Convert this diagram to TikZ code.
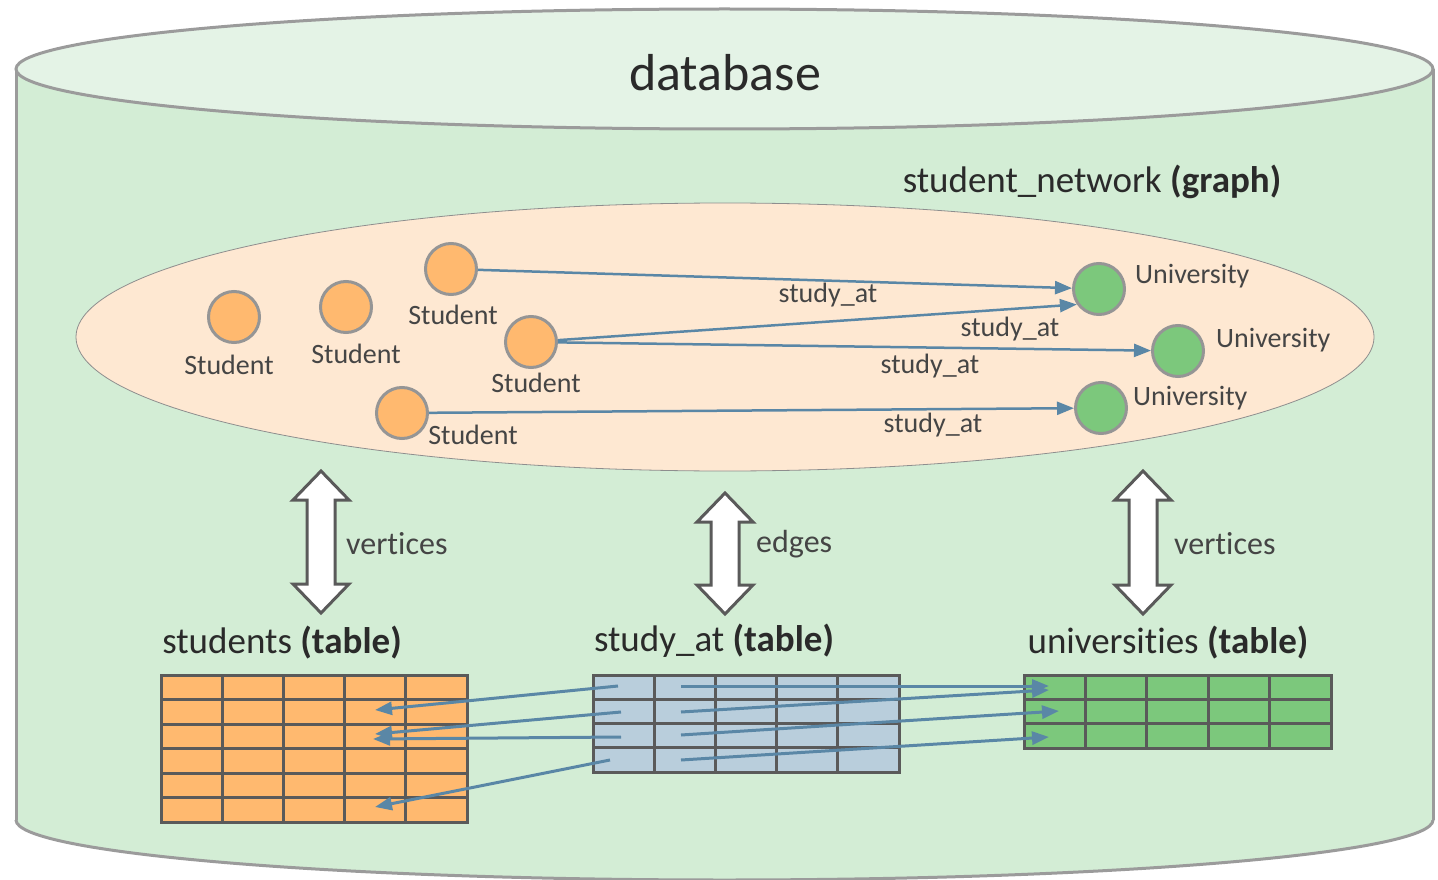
\documentclass[tikz,border=0pt]{standalone}
\usepackage{fontspec}
\setmainfont{Carlito}[Ligatures=CommonOff]
\usetikzlibrary{arrows.meta}

\definecolor{cylside}{HTML}{D3EDD5}
\definecolor{cyltop}{HTML}{E4F3E6}
\definecolor{cylline}{HTML}{9B9B9B}
\definecolor{graphfill}{HTML}{FEE8D2}
\definecolor{graphline}{HTML}{8E8E8E}
\definecolor{studfill}{HTML}{FFB96F}
\definecolor{unifill}{HTML}{7CC87C}
\definecolor{nodeline}{HTML}{959595}
\definecolor{linkblue}{HTML}{5A87A6}
\definecolor{tabline}{HTML}{5A5A5A}
\definecolor{edgefill}{HTML}{B9CEDC}
\definecolor{txt}{HTML}{454545}
\definecolor{titletxt}{HTML}{2A2A2A}

\tikzset{
  student/.style={circle, fill=studfill, draw=nodeline, line width=3pt,
    minimum size=51pt, inner sep=0pt},
  university/.style={student, fill=unifill},
  lbl/.style={text=txt, font=\fontsize{28}{31}\selectfont, inner sep=0pt},
  maplbl/.style={lbl, font=\fontsize{32}{35}\selectfont, anchor=west},
  ttl/.style={text=titletxt, font=\fontsize{37}{41}\selectfont, inner sep=0pt},
  link/.style={draw=linkblue, line width=2.5pt,
    -{Triangle[length=17pt,width=13pt]}},
  tablink/.style={link, line width=3pt},
  biarrow/.style={draw=tabline, line width=3pt, fill=white, line join=miter},
  tabgrid/.style={draw=tabline, line width=3pt},
}

\begin{document}
\begin{tikzpicture}[x=1pt, y=-1pt]
\useasboundingbox (0,0) rectangle (1438,880);

% database cylinder
\fill[cylside] (16,69) rectangle (1433,820);
\fill[cylside] (724.5,820) ellipse [x radius=708.5, y radius=60];
\begin{scope}
  \clip (0,820) rectangle (1438,900);
  \draw[cylline, line width=3pt] (724.5,820) ellipse [x radius=708.5, y radius=60];
\end{scope}
\draw[cylline, line width=3pt] (16,69) -- (16,820) (1433,69) -- (1433,820);
\draw[cylline, line width=3pt, fill=cyltop] (724.5,69) ellipse [x radius=708.5, y radius=60];
\node[text=titletxt, font=\fontsize{52}{56}\selectfont, inner sep=0pt] (dbtitle) at (725,73) {database};

% graph container
\draw[graphline, line width=0.8pt, fill=graphfill] (725,337) ellipse [x radius=649, y radius=134];
\node[ttl] (graphtitle) at (1092,182) {student\_network \textbf{(graph)}};

% vertices
\node[student] (s1) at (234,317) {};
\node[student] (s2) at (346,307) {};
\node[student] (s3) at (451,269) {};
\node[student] (s4) at (531,342) {};
\node[student] (s5) at (402,413) {};
\node[lbl] (s1l) at (229,365) {Student};
\node[lbl] (s2l) at (356,354) {Student};
\node[lbl] (s3l) at (453,315) {Student};
\node[lbl] (s4l) at (536,383) {Student};
\node[lbl] (s5l) at (473,435) {Student};

\node[university] (u1) at (1099,289) {};
\node[university] (u2) at (1178,351) {};
\node[university] (u3) at (1101,408) {};
\node[lbl, anchor=west] (u1l) at (1135,276) {University};
\node[lbl, anchor=west] (u2l) at (1216,340) {University};
\node[lbl, anchor=west] (u3l) at (1133,398) {University};

% graph edges
\draw[link] (s3) -- (u1);
\draw[link] (s4) -- (u1.215);
\draw[link] (s4) -- (u2);
\draw[link] (s5) -- (u3);
\node[lbl] (e1l) at (828,295) {study\_at};
\node[lbl] (e2l) at (1010,329) {study\_at};
\node[lbl] (e3l) at (930,366) {study\_at};
\node[lbl] (e4l) at (933,425) {study\_at};

% mapping arrows
\foreach \x/\t/\b in {321/471/613, 725/493/614, 1143/471/614}
  \draw[biarrow] (\x,\t) -- ({\x+28},{\t+29}) -- ({\x+14},{\t+29})
    -- ({\x+14},{\b-29}) -- ({\x+28},{\b-29}) -- (\x,\b)
    -- ({\x-28},{\b-29}) -- ({\x-14},{\b-29}) -- ({\x-14},{\t+29})
    -- ({\x-28},{\t+29}) -- cycle;
\node[maplbl] (m1) at (346,544) {vertices};
\node[maplbl] (m2) at (756,544) {edges};
\node[maplbl] (m3) at (1174,544) {vertices};

% tables
\node[ttl] (t1) at (282,643) {students \textbf{(table)}};
\node[ttl] (t2) at (714,641) {study\_at \textbf{(table)}};
\node[ttl] (t3) at (1168,643) {universities \textbf{(table)}};

\fill[studfill] (161,675) rectangle (467,822);
\foreach \i in {1,...,4} \draw[tabgrid] ({161+\i*61.2},675) -- ({161+\i*61.2},822);
\foreach \j in {1,...,5} \draw[tabgrid] (161,{675+\j*24.5}) -- (467,{675+\j*24.5});
\draw[tabgrid] (161,675) rectangle (467,822);

\fill[edgefill] (593,675) rectangle (899,772);
\foreach \i in {1,...,4} \draw[tabgrid] ({593+\i*61.2},675) -- ({593+\i*61.2},772);
\foreach \j in {1,...,3} \draw[tabgrid] (593,{675+\j*24.25}) -- (899,{675+\j*24.25});
\draw[tabgrid] (593,675) rectangle (899,772);

\fill[unifill] (1024,675) rectangle (1331,748);
\foreach \i in {1,...,4} \draw[tabgrid] ({1024+\i*61.4},675) -- ({1024+\i*61.4},748);
\foreach \j in {1,...,2} \draw[tabgrid] (1024,{675+\j*24.33}) -- (1331,{675+\j*24.33});
\draw[tabgrid] (1024,675) rectangle (1331,748);

% row links between tables
\coordinate (a1) at (618,686);  \coordinate (sa1) at (375,710);
\coordinate (a2) at (621,712);  \coordinate (sa2) at (375,734);
\coordinate (a3) at (621,737);  \coordinate (sa3) at (373,739);
\coordinate (a4) at (610,760);  \coordinate (sa4) at (375,807);
\coordinate (b1) at (681,686);  \coordinate (ub1) at (1049,686);
\coordinate (b2) at (681,712);  \coordinate (ub2) at (1049,690);
\coordinate (b3) at (681,735);  \coordinate (ub3) at (1059,711);
\coordinate (b4) at (681,760);  \coordinate (ub4) at (1049,737);
\foreach \n in {1,...,4} {
  \draw[tablink] (a\n) -- (sa\n);
  \draw[tablink] (b\n) -- (ub\n);
}
\end{tikzpicture}
\end{document}
